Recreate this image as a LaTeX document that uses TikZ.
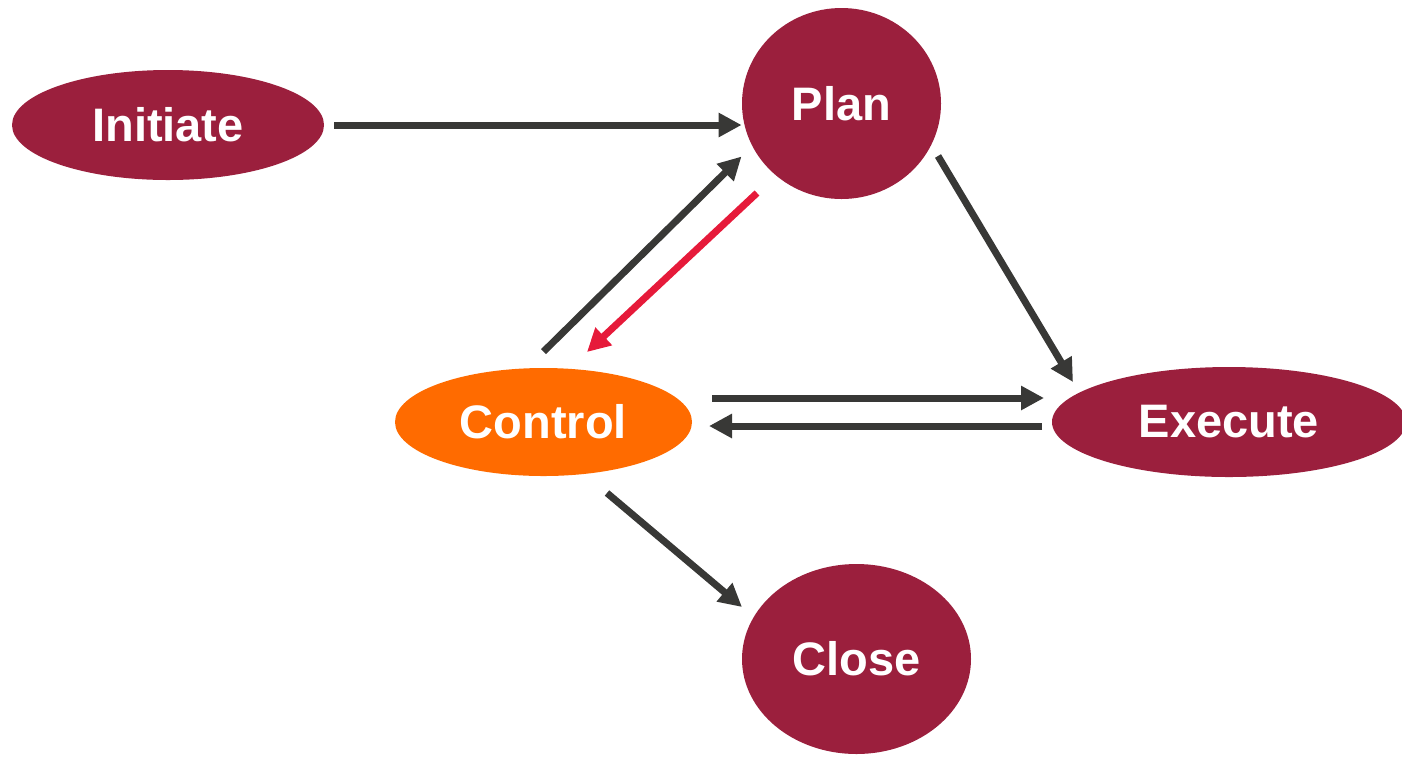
\documentclass[tikz,border=0pt]{standalone}
\usepackage{fontspec}
\setmainfont{Liberation Sans}
\usetikzlibrary{shapes.geometric,arrows.meta}

\definecolor{phasered}{HTML}{9B1F3D}
\definecolor{ctrlorange}{HTML}{FF6B00}
\definecolor{arrowgray}{HTML}{383836}
\definecolor{backred}{HTML}{E61A3A}

\begin{document}
\begin{tikzpicture}[x=0.5pt, y=-0.5pt,
    phase/.style={ellipse, fill=phasered, text=white, inner sep=0pt,
      font=\fontsize{23.5}{28}\selectfont\bfseries},
    arr/.style={line width=3.5pt, draw=arrowgray,
      -{Triangle[length=11.5pt,width=11.5pt]}}]

  \useasboundingbox (0,0) rectangle (1402,757);

  \node[phase, minimum width=156pt, minimum height=55pt] (init) at (168,125) {Initiate};
  \node[phase, minimum width=99.5pt, minimum height=95.5pt] (plan) at (841.5,103.5) {Plan};
  \node[phase, fill=ctrlorange, minimum width=148.5pt, minimum height=54pt] (ctrl) at (543.5,422) {Control};
  \node[phase, minimum width=177pt, minimum height=55pt] (exec) at (1229,422) {Execute};
  \node[phase, minimum width=114.5pt, minimum height=95pt] (close) at (856.5,659) {Close};

  \draw[arr, shorten <=5pt] (init) -- (init -| plan.west); %% init->plan
  \draw[arr] ([yshift=8pt]ctrl.north) -- ([shift={(-100,53)}]plan.center); %% ctrl->plan
  \draw[arr, draw=backred, fill=backred] ([shift={(-84.5,89.5)}]plan.center) -- ([shift={(43.5,-70)}]ctrl.center); %% plan->ctrl
  \draw[arr] ([shift={(96.5,52.5)}]plan.center) -- ([shift={(-156,-40)}]exec.center); %% plan->exec

  \draw[arr] ([shift={(168.5,-24)}]ctrl.center) -- ([shift={(-185,-24)}]exec.center); %% ctrl->exec
  \draw[arr] ([shift={(-187,4)}]exec.center) -- ([shift={(165.5,4)}]ctrl.center); %% exec->ctrl

  \draw[arr] ([shift={(63.5,71)}]ctrl.center) -- ([shift={(-114.5,-52)}]close.center); %% ctrl->close
\end{tikzpicture}
\end{document}
